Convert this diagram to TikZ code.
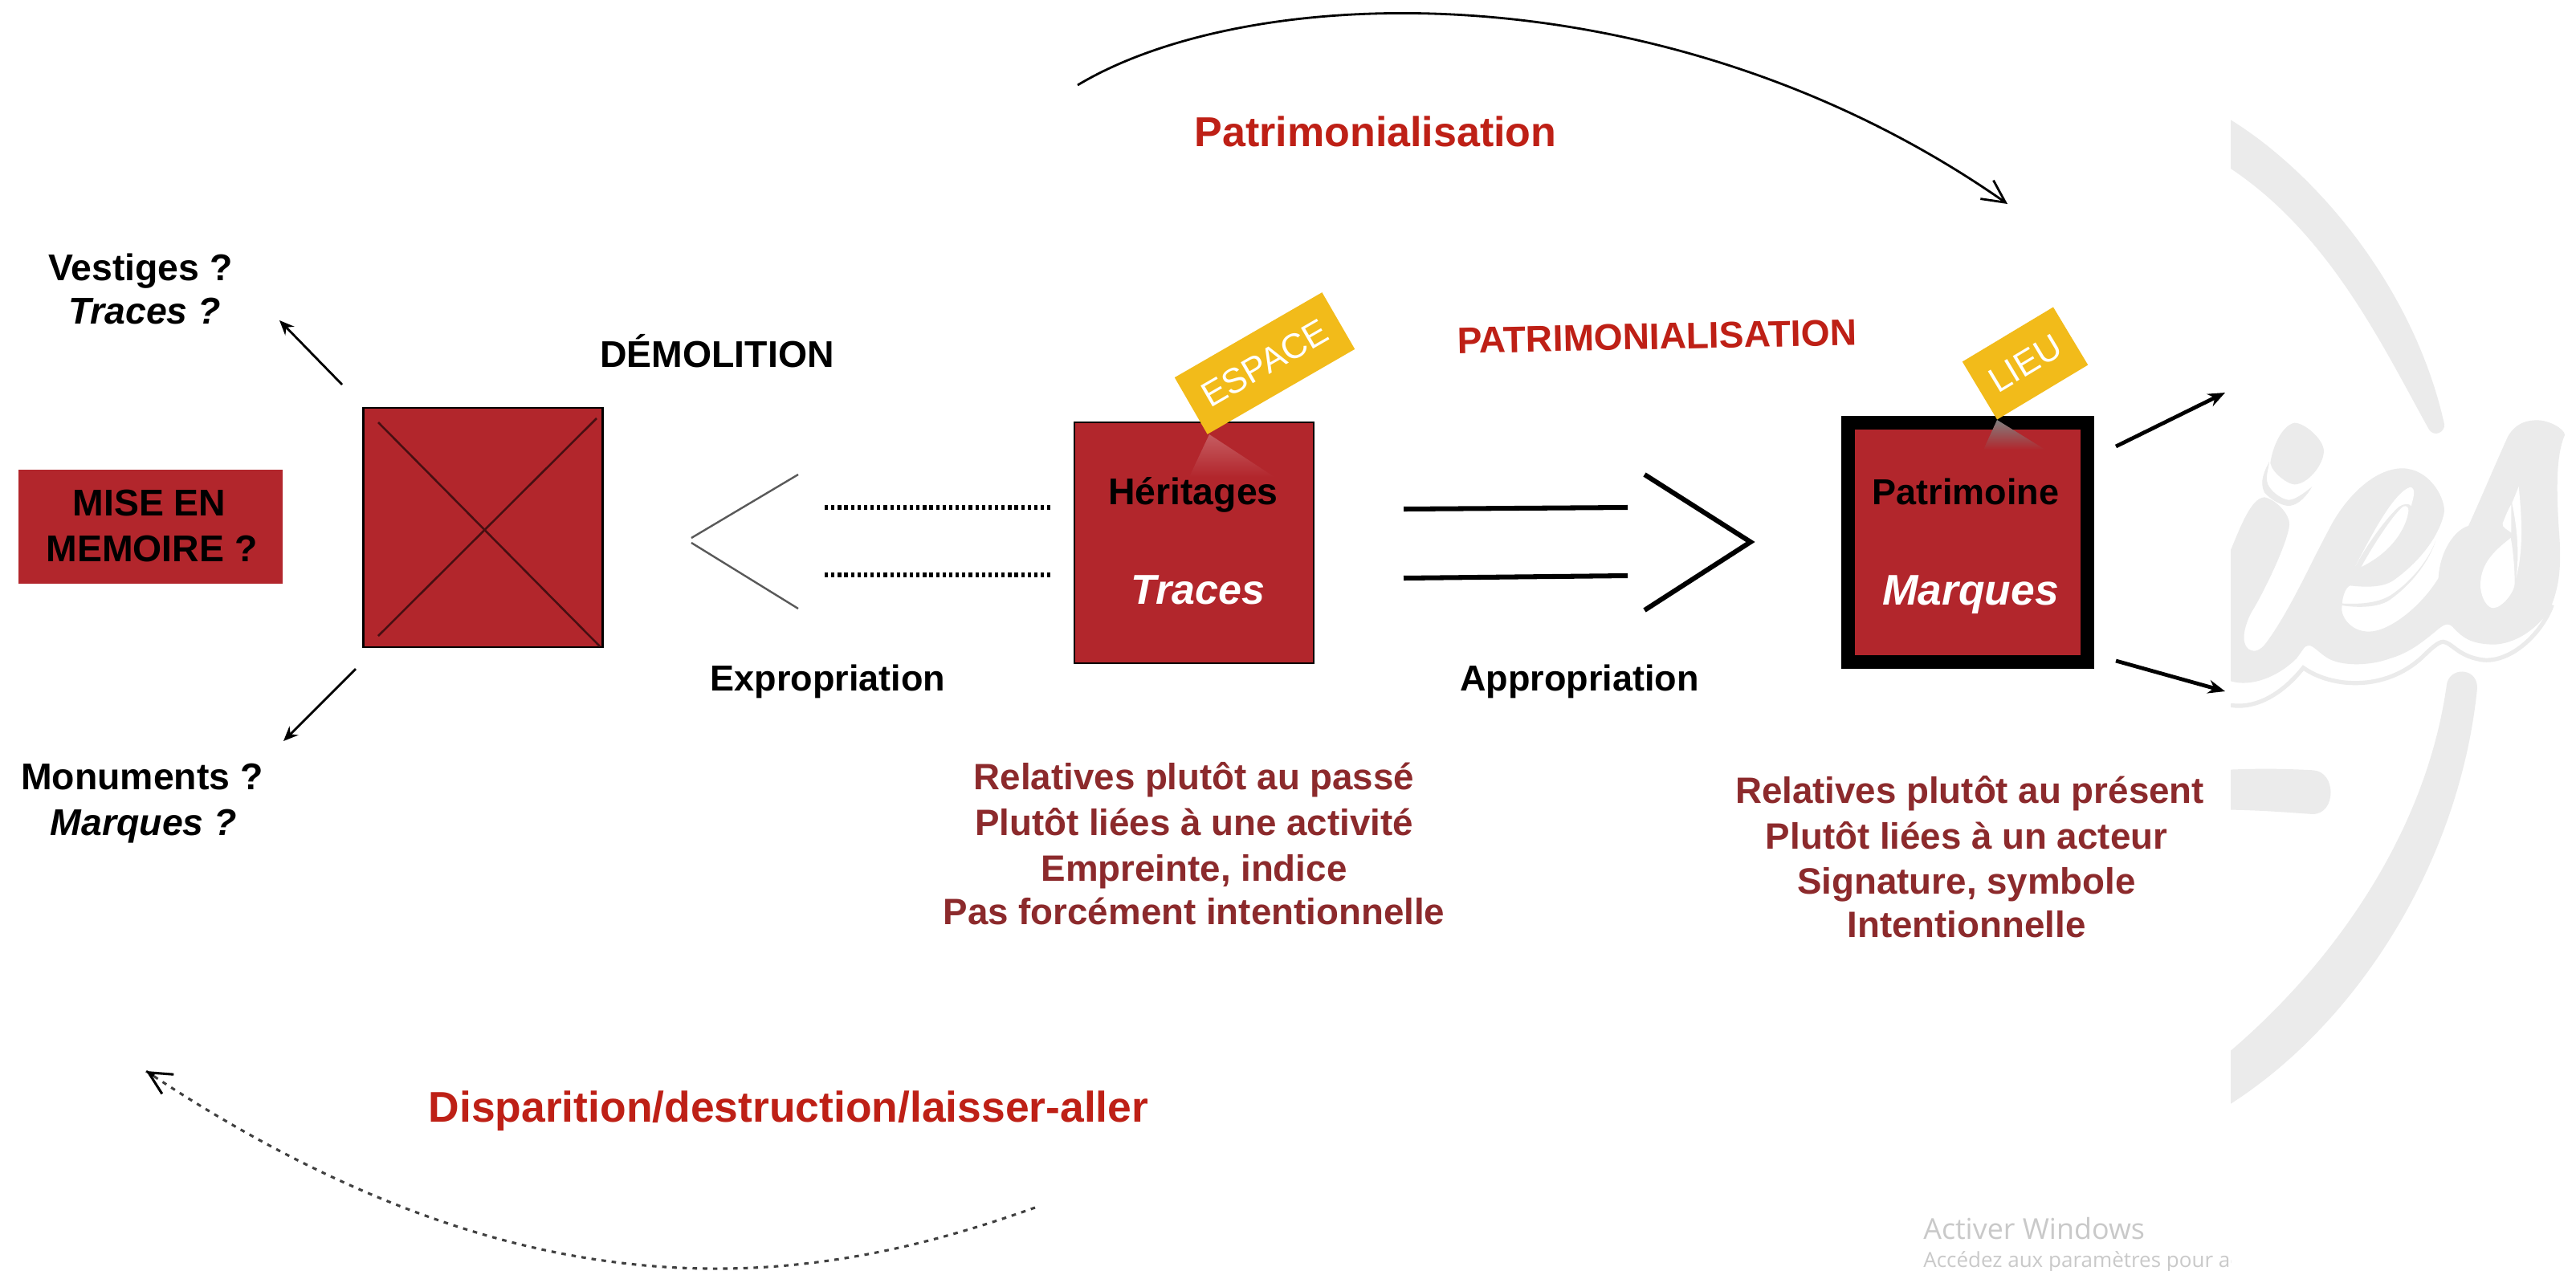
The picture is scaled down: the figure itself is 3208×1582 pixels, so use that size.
\documentclass[tikz,border=0pt]{standalone}
\usepackage{fontspec}
\setmainfont{Liberation Sans}
\newfontfamily\winfont{Open Sans}
\usetikzlibrary{arrows.meta}
\definecolor{boxred}{HTML}{B2262C}
\definecolor{titlered}{HTML}{BE2016}
\definecolor{notered}{HTML}{8C2A2C}
\definecolor{gold}{HTML}{F2BB1A}
\definecolor{logogray}{HTML}{EBEBEB}
\definecolor{wingray}{HTML}{C9C9C9}
\newcommand{\fsz}[1]{\fontsize{#1}{#1}\selectfont}
\tikzset{
  lbl/.style={anchor=base,inner sep=0pt,font=\fsz{33}\bfseries},
  ilbl/.style={anchor=base,inner sep=0pt,font=\fsz{33}\bfseries\itshape},
  note/.style={anchor=base,inner sep=0pt,text=notered,font=\fsz{32.5}\bfseries},
  title/.style={anchor=base,inner sep=0pt,text=titlered,font=\fsz{37}\bfseries},
  redbox/.style={fill=boxred,draw=black,line width=2pt,inner sep=0pt},
  tag/.style={fill=gold,text=white,inner sep=0pt,font=\fsz{31}},
  thick arrow/.style={line width=3.4pt,-{Stealth[length=15pt,width=12pt]}},
  thin arrow/.style={line width=2pt,-{Stealth[length=13pt,width=11pt]}},
  arc arrow/.style={line width=2pt,-{Straight Barb[length=20pt,width=20pt,line width=2pt]}},
  fat line/.style={line width=4.3pt},
  logo/.style={fill=logogray,draw=none},
}
\begin{document}
\begin{tikzpicture}[x=0.25mm,y=-0.25mm]
\useasboundingbox (0,0) rectangle (3208,1582);
\fill[white] (0,0) rectangle (3208,1582);

% ---- watermark logo
\begin{scope}[shift={(2770,130)},x=0.08333mm,y=-0.08333mm]
\clip (24,0) rectangle (1400,1300);
\fill[logo] (0,40) -- (24,58) .. controls (350,260) and (710,690) .. (822,1195)
  .. controls (825,1225) and (785,1245) .. (765,1215)
  .. controls (600,920) and (400,490) .. (24,240) -- (0,222) -- cycle;
\end{scope}
\begin{scope}[shift={(2770,830)},x=0.08333mm,y=-0.08929mm]
\clip (24,0) rectangle (1400,1600);
\fill[logo] (945,75) .. controls (880,680) and (500,1240) .. (24,1525)
  -- (0,1540) -- (0,1358) -- (24,1340) .. controls (400,1040) and (750,590) .. (830,70)
  .. controls (835,0) and (945,0) .. (945,75) -- cycle;
\fill[logo] (0,360) -- (24,360) .. controls (150,355) and (250,358) .. (330,362)
  .. controls (420,365) and (420,515) .. (330,515)
  .. controls (250,510) and (150,502) .. (24,500) -- (0,500) -- cycle;
\end{scope}
\begin{scope}[shift={(2770,500)},x=0.08333mm,y=-0.08333mm]
\clip (24,-100) rectangle (1400,1200);
% i dot
\fill[logo] (262,80) .. controls (215,90) and (180,170) .. (172,230)
  .. controls (180,270) and (240,310) .. (262,310)
  .. controls (310,310) and (370,240) .. (372,185)
  .. controls (370,140) and (300,80) .. (262,80) -- cycle;
\fill[logo] (168,225) .. controls (150,260) and (130,300) .. (150,340)
  .. controls (180,375) and (225,392) .. (245,390)
  .. controls (280,385) and (310,350) .. (328,318)
  .. controls (290,350) and (260,368) .. (240,368)
  .. controls (210,365) and (165,330) .. (160,300)
  .. controls (155,280) and (165,250) .. (168,225) -- cycle;
% letters
\fill[logo] (24,555) .. controls (60,470) and (100,360) .. (150,358)
  .. controls (190,365) and (245,420) .. (243,460)
  .. controls (240,520) and (150,710) .. (100,790)
  .. controls (75,840) and (60,900) .. (90,925)
  .. controls (120,945) and (145,920) .. (165,890)
  .. controls (250,770) and (320,610) .. (390,480)
  .. controls (450,360) and (560,250) .. (665,250)
  .. controls (760,250) and (822,350) .. (822,410)
  .. controls (815,460) and (770,570) .. (630,670)
  .. controls (590,695) and (530,695) .. (470,688)
  .. controls (450,695) and (440,740) .. (440,760)
  .. controls (430,800) and (470,860) .. (540,860)
  .. controls (620,860) and (740,760) .. (800,660)
  .. controls (805,560) and (860,480) .. (912,465)
  .. controls (960,360) and (1010,240) .. (1060,130)
  .. controls (1090,80) and (1130,70) .. (1170,70)
  .. controls (1210,70) and (1270,100) .. (1272,125)
  .. controls (1240,200) and (1240,320) .. (1250,480)
  .. controls (1265,650) and (1240,720) .. (1215,780)
  .. controls (1160,860) and (1080,905) .. (1010,908)
  .. controls (920,908) and (890,880) .. (860,850)
  .. controls (840,825) and (825,830) .. (800,850)
  .. controls (740,900) and (690,940) .. (620,960)
  .. controls (540,990) and (430,990) .. (380,955)
  .. controls (350,935) and (330,910) .. (315,912)
  .. controls (300,910) and (290,935) .. (270,960)
  .. controls (200,1030) and (100,1068) .. (24,1045) -- cycle;
% stripe in the e
\fill[logo] (440,755) .. controls (500,758) and (570,755) .. (620,725)
  .. controls (690,680) and (760,600) .. (790,520)
  .. controls (760,610) and (690,690) .. (620,740)
  .. controls (580,770) and (500,772) .. (440,762) -- cycle;
% holes
\fill[white] (512,618) .. controls (560,530) and (640,410) .. (670,392)
  .. controls (680,388) and (690,395) .. (688,410)
  .. controls (680,470) and (630,560) .. (512,618) -- cycle;
\fill[white] (490,615) .. controls (540,520) and (630,340) .. (695,320)
  .. controls (715,325) and (710,350) .. (698,390)
  .. controls (690,380) and (670,380) .. (650,395)
  .. controls (600,440) and (530,540) .. (490,615) -- cycle;
\fill[white] (1070,510) .. controls (1020,550) and (955,600) .. (957,690)
  .. controls (960,740) and (985,772) .. (1005,772)
  .. controls (1040,770) and (1085,710) .. (1085,680)
  .. controls (1085,620) and (1078,550) .. (1070,510) -- cycle;
\fill[white] (1072,385) -- (1072,490) .. controls (1060,480) and (1035,470) .. (1040,455)
  .. controls (1050,430) and (1062,400) .. (1072,385) -- cycle;
\fill[white] (1100,318) .. controls (1110,420) and (1120,550) .. (1090,660)
  .. controls (1105,560) and (1090,450) .. (1075,380) -- cycle;
% underline
\draw[logogray,line width=1.3mm] (24,1135) .. controls (120,1150) and (220,1090) .. (295,995)
  .. controls (400,1070) and (600,1085) .. (740,955)
  .. controls (770,925) and (800,898) .. (817,898)
  .. controls (850,900) and (870,950) .. (960,965)
  .. controls (1060,980) and (1180,880) .. (1225,760);
\end{scope}

% ---- boxes
\node[redbox,minimum width=74.5mm,minimum height=74.5mm] (ruin) at (601.5,657) {};
\node[redbox,minimum width=74.5mm,minimum height=75mm] (herit) at (1487,676) {};
\node[fill=boxred,draw=black,line width=12pt,inner sep=0pt,minimum width=74.5mm,minimum height=74.5mm] (patri) at (2450.5,675.5) {};
\node[fill=boxred,inner sep=0pt,minimum width=82.2mm,minimum height=35.5mm] (mise) at (187.5,656) {};

% glints under the tags
\shade[top color=boxred!75!white,bottom color=boxred] (1506,541) -- (1587,594) -- (1481,594) -- cycle;
\shade[top color=gray,bottom color=boxred] (2487,523) -- (2547,560) -- (2470,560) -- cycle;

% tags
\node[tag,rotate=30,minimum width=53mm,minimum height=20.4mm] (espace) at (1575,452.5) {ESPACE};
\node[tag,rotate=31,minimum width=33mm,minimum height=21mm] (lieu) at (2522,452.5) {LIEU};

% ---- crossing of the ruined box
\coordinate (xa) at (471,526); \coordinate (xb) at (747,805);
\coordinate (xc) at (743,521); \coordinate (xd) at (471,792);
\draw[line width=1.8pt,black!60!boxred] (xa) -- (xb);
\draw[line width=1.8pt,black!60!boxred] (xc) -- (xd);

% ---- labels
\node[lbl] (vest) at (175,349) {Vestiges ?};
\node[ilbl] (trq) at (180,403) {Traces ?};
\node[lbl] (misea) at (186,642) {MISE EN};
\node[lbl] (miseb) at (189,699) {MEMOIRE ?};
\node[lbl] (monu) at (177,983) {Monuments ?};
\node[ilbl] (marq) at (179,1040) {Marques ?};
\node[lbl] (demo) at (893,457) {DÉMOLITION};
\node[lbl,font=\fsz{32}\bfseries] (expr) at (1031,860) {Expropriation};
\node[lbl,font=\fsz{32}\bfseries] (appr) at (1967,860) {Appropriation};
\node[lbl] (herittxt) at (1486,628) {Héritages};
\node[anchor=base,inner sep=0pt,text=white,font=\fsz{37}\bfseries\itshape] (tratxt) at (1492,752) {Traces};
\node[lbl,font=\fsz{32}\bfseries] (patritxt) at (2448,628) {Patrimoine};
\node[anchor=base,inner sep=0pt,text=white,font=\fsz{38}\bfseries\itshape] (martxt) at (2454,753) {Marques};
\node[title] (ttop) at (1713,182) {Patrimonialisation};
\node[title,font=\fsz{38}\bfseries] (tbot) at (982,1397) {Disparition/destruction/laisser-aller};
\node[title,font=\fsz{32.8}\bfseries,rotate=1.2] (tmid) at (2064,435) {PATRIMONIALISATION};

\node[note] (la) at (1487,983) {Relatives plutôt au passé};
\node[note] (lb) at (1487,1040) {Plutôt liées à une activité};
\node[note] (lc) at (1487,1097) {Empreinte, indice};
\node[note] (ld) at (1487,1151) {Pas forcément intentionnelle};
\node[note] (ra) at (2453,1000) {Relatives plutôt au présent};
\node[note] (rb) at (2449,1057) {Plutôt liées à un acteur};
\node[note] (rc) at (2449,1113) {Signature, symbole};
\node[note] (rd) at (2449,1167) {Intentionnelle};

% ---- connectors
\coordinate (vs) at (426,479); \coordinate (ve) at (348,399);
\coordinate (ms) at (443,833); \coordinate (me) at (353,923);
\draw[thin arrow] (vs) -- (ve);
\draw[thin arrow] (ms) -- (me);

\coordinate (cha) at (994,591); \coordinate (chb) at (861,670);
\coordinate (chc) at (861,676); \coordinate (chd) at (994,758);
\draw[line width=1.7pt,black!65] (cha) -- (chb);
\draw[line width=1.7pt,black!65] (chc) -- (chd);
\coordinate (da) at (1027,632); \coordinate (db) at (1309,632);
\coordinate (dc) at (1027,716); \coordinate (dd) at (1309,716);
\draw[line width=3.6pt,dash pattern=on 3pt off 2.8pt] (da) -- (db);
\draw[line width=3.6pt,dash pattern=on 3pt off 2.8pt] (dc) -- (dd);

\coordinate (ea) at (1748,634); \coordinate (eb) at (2027,632);
\coordinate (ec) at (1748,720); \coordinate (ed) at (2027,717);
\draw[fat line] (ea) -- (eb);
\draw[fat line] (ec) -- (ed);
\coordinate (fa) at (2048,591); \coordinate (fb) at (2180,675); \coordinate (fc) at (2048,760);
\draw[fat line,line join=miter] (fa) -- (fb) -- (fc);

\coordinate (ga) at (2635,556); \coordinate (gb) at (2771,489);
\coordinate (gc) at (2635,823); \coordinate (gd) at (2771,861);
\draw[thick arrow] (ga) -- (gb);
\draw[thick arrow] (gc) -- (gd);

\coordinate (ta) at (1342,106); \coordinate (tb) at (2500,254);
\draw[arc arrow] (ta) .. controls (1560,-25) and (2080,-40) .. (tb);
\coordinate (ba) at (1289,1504); \coordinate (bb) at (182,1334); \coordinate (bc) at (192,1340);
\draw[line width=2.2pt,draw=black!75,dash pattern=on 4pt off 5pt] (ba) .. controls (1020,1600) and (670,1660) .. (bb);
\draw[line width=2.2pt,-{Straight Barb[length=20pt,width=20pt,line width=2.2pt]}] (bc) -- (bb);

% ---- system message
\begin{scope}
\clip (2300,1480) rectangle (2778,1582);
\node[anchor=base west,inner sep=0pt,text=wingray,font=\winfont\fsz{25.5}] (wina) at (2395,1543) {Activer Windows};
\node[anchor=base west,inner sep=0pt,text=wingray,font=\winfont\fsz{18.5}] (winb) at (2395,1578) {Accédez aux paramètres pour activer Windows.};
\end{scope}
\end{tikzpicture}
\end{document}
